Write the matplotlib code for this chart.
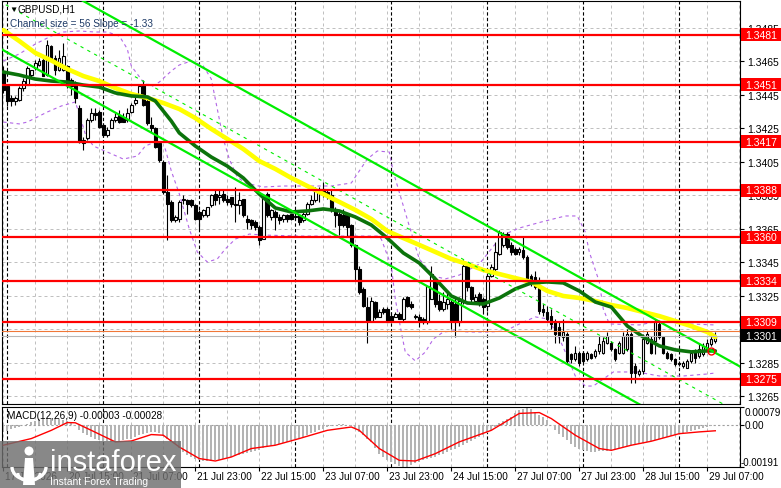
import matplotlib
matplotlib.use('Agg')
import matplotlib.pyplot as plt
import matplotlib.transforms as mtransforms
from matplotlib.patches import Rectangle, Circle, Polygon, Arc
import numpy as np

plt.rcParams['font.family'] = ['Liberation Sans', 'DejaVu Sans']

W, H = 781, 489

# ---- GBPUSD H1 candles, bar 0 = 17 Jul 23:00 ----
opens = [
    1.3458, 1.3450, 1.3443, 1.3441, 1.3442, 1.3449, 1.3451, 1.3457, 1.3461, 1.3463,
    1.3466, 1.3457, 1.3474, 1.3467, 1.3460, 1.3460, 1.3462, 1.3454, 1.3452, 1.3437,
    1.3416, 1.3419, 1.3430, 1.3434, 1.3435, 1.3427, 1.3421, 1.3425, 1.3430, 1.3433,
    1.3432, 1.3430, 1.3435, 1.3440, 1.3445, 1.3451, 1.3441, 1.3427, 1.3425, 1.3416,
    1.3405, 1.3387, 1.3381, 1.3370, 1.3371, 1.3382, 1.3382, 1.3382, 1.3379, 1.3375,
    1.3373, 1.3373, 1.3379, 1.3386, 1.3384, 1.3386, 1.3383, 1.3384, 1.3380, 1.3379,
    1.3383, 1.3371, 1.3370, 1.3369, 1.3366, 1.3359, 1.3386, 1.3372, 1.3375, 1.3372,
    1.3371, 1.3373, 1.3374, 1.3372, 1.3373, 1.3370, 1.3374, 1.3380, 1.3382, 1.3389,
    1.3389, 1.3387, 1.3385, 1.3377, 1.3374, 1.3373, 1.3373, 1.3367, 1.3355, 1.3341,
    1.3329, 1.3318, 1.3310, 1.3321, 1.3312, 1.3317, 1.3317, 1.3313, 1.3312, 1.3314,
    1.3311, 1.3324, 1.3320, 1.3312, 1.3312, 1.3311, 1.3309, 1.3323, 1.3335, 1.3322,
    1.3317, 1.3320, 1.3321, 1.3320, 1.3309, 1.3322, 1.3343, 1.3330, 1.3322, 1.3326,
    1.3323, 1.3319, 1.3337, 1.3341, 1.3350, 1.3355, 1.3362, 1.3355, 1.3353, 1.3351,
    1.3352, 1.3348, 1.3337, 1.3336, 1.3331, 1.3317, 1.3315, 1.3313, 1.3309, 1.3306,
    1.3300, 1.3302, 1.3290, 1.3287, 1.3291, 1.3291, 1.3287, 1.3290, 1.3289, 1.3292,
    1.3291, 1.3297, 1.3297, 1.3293, 1.3291, 1.3291, 1.3293, 1.3302, 1.3283, 1.3278,
    1.3280, 1.3297, 1.3299, 1.3298, 1.3308, 1.3300, 1.3291, 1.3290, 1.3287, 1.3285,
    1.3283, 1.3282, 1.3286, 1.3292, 1.3289, 1.3290, 1.3293, 1.3296, 1.3298]
highs = [
    1.3462, 1.3451, 1.3445, 1.3444, 1.3450, 1.3455, 1.3462, 1.3460, 1.3466, 1.3467,
    1.3468, 1.3478, 1.3475, 1.3469, 1.3472, 1.3476, 1.3463, 1.3455, 1.3453, 1.3439,
    1.3420, 1.3431, 1.3437, 1.3437, 1.3436, 1.3428, 1.3426, 1.3431, 1.3434, 1.3436,
    1.3434, 1.3437, 1.3440, 1.3445, 1.3451, 1.3454, 1.3444, 1.3432, 1.3426, 1.3417,
    1.3406, 1.3397, 1.3382, 1.3373, 1.3382, 1.3385, 1.3383, 1.3383, 1.3380, 1.3376,
    1.3377, 1.3378, 1.3386, 1.3388, 1.3388, 1.3388, 1.3385, 1.3384, 1.3390, 1.3387,
    1.3383, 1.3373, 1.3371, 1.3370, 1.3367, 1.3386, 1.3387, 1.3377, 1.3376, 1.3374,
    1.3374, 1.3374, 1.3374, 1.3374, 1.3374, 1.3375, 1.3381, 1.3385, 1.3390, 1.3390,
    1.3393, 1.3388, 1.3389, 1.3378, 1.3375, 1.3377, 1.3374, 1.3368, 1.3356, 1.3343,
    1.3330, 1.3324, 1.3324, 1.3322, 1.3317, 1.3318, 1.3318, 1.3315, 1.3315, 1.3315,
    1.3324, 1.3325, 1.3322, 1.3314, 1.3314, 1.3312, 1.3331, 1.3343, 1.3336, 1.3326,
    1.3327, 1.3327, 1.3323, 1.3324, 1.3324, 1.3346, 1.3345, 1.3331, 1.3326, 1.3327,
    1.3324, 1.3338, 1.3344, 1.3357, 1.3364, 1.3363, 1.3363, 1.3357, 1.3354, 1.3354,
    1.3360, 1.3349, 1.3338, 1.3340, 1.3336, 1.3320, 1.3319, 1.3317, 1.3311, 1.3309,
    1.3311, 1.3303, 1.3291, 1.3295, 1.3292, 1.3292, 1.3292, 1.3291, 1.3293, 1.3301,
    1.3300, 1.3303, 1.3298, 1.3294, 1.3298, 1.3303, 1.3305, 1.3303, 1.3285, 1.3281,
    1.3302, 1.3304, 1.3301, 1.3311, 1.3309, 1.3301, 1.3292, 1.3291, 1.3288, 1.3286,
    1.3286, 1.3287, 1.3292, 1.3293, 1.3297, 1.3297, 1.3299, 1.3301, 1.3303]
lows = [
    1.3446, 1.3438, 1.3438, 1.3439, 1.3441, 1.3447, 1.3451, 1.3455, 1.3460, 1.3462,
    1.3456, 1.3456, 1.3465, 1.3457, 1.3459, 1.3459, 1.3449, 1.3445, 1.3440, 1.3416,
    1.3412, 1.3418, 1.3429, 1.3430, 1.3425, 1.3420, 1.3420, 1.3425, 1.3429, 1.3428,
    1.3429, 1.3429, 1.3434, 1.3439, 1.3444, 1.3438, 1.3427, 1.3423, 1.3413, 1.3405,
    1.3386, 1.3358, 1.3369, 1.3369, 1.3369, 1.3380, 1.3374, 1.3378, 1.3370, 1.3364,
    1.3372, 1.3372, 1.3378, 1.3379, 1.3380, 1.3381, 1.3379, 1.3378, 1.3369, 1.3374,
    1.3372, 1.3365, 1.3365, 1.3364, 1.3355, 1.3359, 1.3372, 1.3370, 1.3364, 1.3368,
    1.3369, 1.3369, 1.3370, 1.3370, 1.3367, 1.3369, 1.3373, 1.3379, 1.3381, 1.3381,
    1.3384, 1.3383, 1.3375, 1.3366, 1.3361, 1.3366, 1.3360, 1.3354, 1.3334, 1.3326,
    1.3318, 1.3297, 1.3309, 1.3311, 1.3312, 1.3314, 1.3309, 1.3309, 1.3312, 1.3311,
    1.3310, 1.3318, 1.3317, 1.3311, 1.3306, 1.3308, 1.3308, 1.3323, 1.3318, 1.3316,
    1.3316, 1.3317, 1.3305, 1.3300, 1.3307, 1.3320, 1.3328, 1.3321, 1.3320, 1.3319,
    1.3314, 1.3316, 1.3336, 1.3340, 1.3349, 1.3354, 1.3353, 1.3349, 1.3349, 1.3349,
    1.3347, 1.3332, 1.3331, 1.3329, 1.3314, 1.3313, 1.3310, 1.3305, 1.3297, 1.3297,
    1.3298, 1.3284, 1.3285, 1.3286, 1.3283, 1.3285, 1.3286, 1.3287, 1.3288, 1.3290,
    1.3290, 1.3296, 1.3292, 1.3286, 1.3290, 1.3290, 1.3292, 1.3273, 1.3273, 1.3277,
    1.3278, 1.3296, 1.3290, 1.3290, 1.3299, 1.3290, 1.3287, 1.3286, 1.3283, 1.3283,
    1.3282, 1.3282, 1.3285, 1.3285, 1.3288, 1.3289, 1.3292, 1.3295, 1.3297]
closes = [
    1.3448, 1.3441, 1.3441, 1.3443, 1.3449, 1.3453, 1.3461, 1.3460, 1.3464, 1.3465,
    1.3456, 1.3475, 1.3467, 1.3460, 1.3467, 1.3468, 1.3452, 1.3450, 1.3443, 1.3417,
    1.3418, 1.3430, 1.3434, 1.3433, 1.3426, 1.3421, 1.3424, 1.3430, 1.3432, 1.3429,
    1.3429, 1.3434, 1.3439, 1.3442, 1.3450, 1.3439, 1.3428, 1.3425, 1.3414, 1.3406,
    1.3387, 1.3380, 1.3370, 1.3372, 1.3381, 1.3383, 1.3380, 1.3379, 1.3371, 1.3371,
    1.3376, 1.3378, 1.3385, 1.3382, 1.3385, 1.3382, 1.3381, 1.3380, 1.3379, 1.3382,
    1.3373, 1.3369, 1.3367, 1.3366, 1.3358, 1.3385, 1.3373, 1.3376, 1.3372, 1.3370,
    1.3373, 1.3371, 1.3371, 1.3372, 1.3369, 1.3374, 1.3380, 1.3382, 1.3389, 1.3387,
    1.3386, 1.3385, 1.3376, 1.3373, 1.3367, 1.3367, 1.3366, 1.3355, 1.3341, 1.3327,
    1.3319, 1.3310, 1.3322, 1.3312, 1.3315, 1.3315, 1.3309, 1.3310, 1.3314, 1.3311,
    1.3323, 1.3319, 1.3318, 1.3313, 1.3310, 1.3309, 1.3331, 1.3338, 1.3320, 1.3317,
    1.3321, 1.3323, 1.3310, 1.3309, 1.3322, 1.3343, 1.3330, 1.3323, 1.3324, 1.3320,
    1.3318, 1.3337, 1.3342, 1.3351, 1.3363, 1.3362, 1.3354, 1.3351, 1.3350, 1.3353,
    1.3348, 1.3333, 1.3332, 1.3330, 1.3316, 1.3315, 1.3311, 1.3308, 1.3302, 1.3301,
    1.3303, 1.3286, 1.3287, 1.3291, 1.3285, 1.3286, 1.3291, 1.3288, 1.3292, 1.3296,
    1.3298, 1.3301, 1.3293, 1.3287, 1.3297, 1.3301, 1.3302, 1.3279, 1.3279, 1.3280,
    1.3299, 1.3302, 1.3291, 1.3309, 1.3300, 1.3291, 1.3288, 1.3287, 1.3284, 1.3284,
    1.3285, 1.3286, 1.3291, 1.3288, 1.3293, 1.3295, 1.3297, 1.3299, 1.3301]

# moving averages (sampled at bar indices)
ma_slow_idx = [0, 4, 8, 12, 16, 20, 24, 28, 32, 36, 40, 44, 48, 52, 56, 60, 64, 68, 72,
               76, 80, 84, 88, 92, 96, 100, 104, 108, 112, 116, 120, 124, 128, 132, 136,
               140, 144, 148, 152, 156, 160, 164, 168, 172, 176, 178]
ma_slow = [1.34837, 1.34771, 1.34700, 1.34655, 1.34604, 1.34562, 1.34532, 1.34490, 1.34455,
           1.34431, 1.34401, 1.34365, 1.34311, 1.34246, 1.34186, 1.34126, 1.34054, 1.34007,
           1.33953, 1.33905, 1.33857, 1.33810, 1.33762, 1.33708, 1.33636, 1.33594, 1.33553,
           1.33511, 1.33469, 1.33439, 1.33403, 1.33379, 1.33355, 1.33332, 1.33278, 1.33248,
           1.33236, 1.33218, 1.33194, 1.33176, 1.33152, 1.33128, 1.33098, 1.33068, 1.33033,
           1.33003]
ma_fast_idx = [0, 4, 8, 12, 16, 20, 24, 28, 32, 36, 38, 40, 42, 44, 48, 52, 56, 60, 64, 68,
               72, 76, 80, 84, 88, 92, 96, 100, 104, 108, 112, 116, 120, 124, 128, 132, 136,
               140, 144, 148, 152, 156, 160, 164, 168, 172, 176, 178]
ma_fast = [1.34586, 1.34568, 1.34544, 1.34532, 1.34526, 1.34508, 1.34496, 1.34461, 1.34443,
           1.34437, 1.34413, 1.34353, 1.34293, 1.34222, 1.34144, 1.34078, 1.34024, 1.33953,
           1.33857, 1.33774, 1.33750, 1.33756, 1.33768, 1.33756, 1.33720, 1.33672, 1.33594,
           1.33505, 1.33445, 1.33350, 1.33248, 1.33206, 1.33200, 1.33236, 1.33290, 1.33326,
           1.33332, 1.33326, 1.33278, 1.33212, 1.33182, 1.33069, 1.33003, 1.32950, 1.32926,
           1.32914, 1.32920, 1.32920]

# bands (purple dashed)
band_up_idx = [0, 4, 8, 12, 15, 19, 23, 26, 29, 31, 32, 35, 37, 39, 42, 44, 47, 50, 52, 53,
               54, 55, 56.5, 58.5, 60.5, 65, 70, 75, 82, 87, 89, 91, 93.5, 96.5, 97.5, 99.5,
               101.5, 103, 104, 107.5, 110.5, 114, 119, 123, 125.5, 129, 134.5, 140.5, 143.5,
               145.5, 146.5, 149, 150, 151.5, 159, 164, 171.5, 178]
band_up = [1.34652, 1.34694, 1.34753, 1.34801, 1.34825, 1.34831, 1.34825, 1.34825, 1.34801,
           1.34724, 1.34622, 1.34526, 1.34497, 1.34526, 1.34592, 1.34628, 1.34652, 1.34622,
           1.34544, 1.34425, 1.34305, 1.34186, 1.34066, 1.33959, 1.33923, 1.33899, 1.33905,
           1.33905, 1.33905, 1.33923, 1.33995, 1.34066, 1.34114, 1.34108, 1.33989, 1.33827,
           1.33666, 1.33547, 1.33469, 1.33367, 1.33350, 1.33373, 1.33439, 1.33559, 1.33618,
           1.33654, 1.33690, 1.33726, 1.33726, 1.33630, 1.33511, 1.33332, 1.33170, 1.33081,
           1.33075, 1.33099, 1.33081, 1.33075]
band_dn_idx = [0, 4, 6, 11, 14.5, 18, 19, 20.5, 22.5, 26, 30, 33.5, 35.5, 38, 40.5, 42, 44,
               46.5, 48.5, 51, 53.5, 55.5, 58, 61.5, 65, 74, 82, 93.5, 94.5, 97, 98, 99.5,
               100.5, 103, 105.5, 107.5, 110, 112.5, 116.5, 121.5, 125.5, 129, 133, 136,
               138.5, 140.5, 143, 145.5, 147.5, 150, 152.5, 158.5, 164, 170, 176, 178]
band_dn = [1.34287, 1.34276, 1.34287, 1.34347, 1.34383, 1.34407, 1.34335, 1.34216, 1.34144,
           1.34108, 1.34066, 1.34084, 1.34144, 1.34168, 1.34126, 1.33995, 1.33858, 1.33648,
           1.33511, 1.33451, 1.33469, 1.33529, 1.33588, 1.33618, 1.33612, 1.33606, 1.33606,
           1.33606, 1.33588, 1.33427, 1.33230, 1.33033, 1.32913, 1.32860, 1.32913, 1.32991,
           1.33033, 1.33039, 1.33033, 1.33033, 1.33039, 1.33081, 1.33123, 1.33111, 1.33021,
           1.32913, 1.32770, 1.32710, 1.32710, 1.32752, 1.32794, 1.32794, 1.32770, 1.32770,
           1.32782, 1.32788]

# regression channel: "Channel size = 56 Slope = -1.33"
channel_top_at_0 = 1.35276
channel_slope = -0.000133
channel_size = 0.0056

levels = [1.3481, 1.3451, 1.3417, 1.3388, 1.3360, 1.3334, 1.3309, 1.3275]
bid_price = 1.3301
ask_price = 1.3304
marker_idx, marker_price = 177, 1.3292
price_ticks = [1.3265, 1.3285, 1.3305, 1.3325, 1.3345, 1.3365, 1.3385, 1.3405,
               1.3425, 1.3445, 1.3465, 1.3485]

# MACD(12,26,9): histogram (in 1e-5) and signal
macd_hist_pts = [
    -33, -28, -22, -16, -11, -4, 4, 12, 18, 24,
    27, 29, 30, 29, 27, 22, 17, 12, -5, -26,
    -36, -47, -56, -64, -71, -74, -76, -77, -78, -75,
    -71, -67, -63, -57, -49, -41, -36, -33, -35, -40,
    -51, -66, -77, -86, -106, -123, -135, -145, -153, -160,
    -165, -166, -164, -161, -158, -154, -150, -146, -141, -136,
    -132, -127, -123, -118, -114, -106, -102, -98, -93, -88,
    -83, -77, -71, -66, -60, -54, -47, -40, -33, -26,
    -18, -12, -6, 0, 3, 2, -2, -6, -18, -33,
    -47, -63, -78, -105, -131, -146, -158, -168, -176, -188,
    -191, -189, -180, -174, -167, -161, -155, -149, -144, -138,
    -131, -124, -116, -109, -101, -92, -83, -74, -65, -56,
    -45, -36, -26, -10, 5, 15, 25, 35, 50, 65,
    72, 79, 70, 57, 45, 33, 20, 0, -26, -42,
    -57, -71, -86, -101, -110, -116, -120, -122, -123, -121,
    -119, -117, -116, -111, -107, -102, -98, -93, -90, -86,
    -82, -78, -75, -70, -65, -60, -56, -51, -47, -43,
    -39, -35, -30, -26, -22, -16, -12, -8, -3]
macd_sig_idx = [0, 7, 12, 16, 18, 22, 28, 32, 37, 40, 44, 49, 53, 57, 62, 68, 74, 81, 87,
                89, 94, 99, 103, 108, 114, 122, 129, 134, 137, 143, 149, 152, 157, 162,
                169, 174, 178]
macd_sig = [-0.00093, -0.00063, -0.00026, 0.00009, 0.00008, -0.00026, -0.00078, -0.00074,
            -0.00045, -0.00048, -0.00101, -0.00153, -0.00164, -0.00146, -0.00108, -0.00093,
            -0.00063, -0.00026, -0.00011, -0.00026, -0.00108, -0.00161, -0.00164, -0.00131,
            -0.00078, -0.00026, 0.00050, 0.00054, 0.00027, -0.00048, -0.00108, -0.00116,
            -0.00093, -0.00075, -0.00041, -0.00033, -0.00028]

day_start_idx = [1, 25, 49, 73, 97, 121, 145, 169]
time_label_idx = [0, 16, 32, 48, 64, 80, 96, 112, 128, 144, 160, 176]
time_labels = ['17 Jul 2026', '20 Jul 15:00', '21 Jul 07:00', '21 Jul 23:00', '22 Jul 15:00',
               '23 Jul 07:00', '23 Jul 23:00', '24 Jul 15:00', '27 Jul 07:00', '27 Jul 23:00',
               '28 Jul 15:00', '29 Jul 07:00']


def px_box(left, top, right, bottom):
    return [left / W, 1 - bottom / H, (right - left) / W, (bottom - top) / H]


fig = plt.figure(figsize=(W / 100, H / 100), dpi=100)
fig.patch.set_facecolor('white')
ax = fig.add_axes(px_box(2, 2, 740, 405))
ax2 = fig.add_axes(px_box(2, 408, 740, 468))
AXW = 738.0

for a in (ax, ax2):
    a.set_xlim(-0.325, 184.175)
    for s in a.spines.values():
        s.set_color('black')
        s.set_linewidth(0.8)
    for g in range(0, 185, 8):
        a.axvline(g, color='#C0C0C0', lw=0.72, ls=(0, (3, 3)), zorder=1)
    for d in day_start_idx:
        a.axvline(d, color='black', lw=0.8, ls=(0, (3, 2)), zorder=1.5)
ax.set_ylim(1.326027, 1.350102)
ax2.set_ylim(-0.00191, 0.00079)

for p in price_ticks:
    ax.axhline(p, color='#C0C0C0', lw=0.72, ls=(0, (3, 3)), zorder=1)

# bands
ax.plot(band_up_idx, band_up, color='#B266E6', lw=0.8, ls=(0, (3, 3)), zorder=2)
ax.plot(band_dn_idx, band_dn, color='#B266E6', lw=0.8, ls=(0, (3, 3)), zorder=2)

# candles
idx = np.arange(len(opens))
o, hi, lo, c = (np.array(v) for v in (opens, highs, lows, closes))
up = c >= o
ax.vlines(idx, lo, hi, color='black', lw=0.8, zorder=3)
body_lo = np.minimum(o, c)
body_h = np.maximum(np.abs(c - o), 0.00003)
ax.bar(idx[up], body_h[up], bottom=body_lo[up], width=0.6, facecolor='white',
       edgecolor='black', linewidth=0.8, zorder=3.1)
ax.bar(idx[~up], body_h[~up], bottom=body_lo[~up], width=0.6, facecolor='black',
       edgecolor='black', linewidth=0.8, zorder=3.1)

# moving averages
ax.plot(ma_slow_idx, ma_slow, color='#FFFF00', lw=3.3, solid_capstyle='round',
        solid_joinstyle='round', zorder=4)
ax.plot(ma_fast_idx, ma_fast, color='#0B730B', lw=2.6, solid_capstyle='round',
        solid_joinstyle='round', zorder=4.1)

# channel
ch_x = np.array([-2.0, 186.0])
ch_top = channel_top_at_0 + channel_slope * ch_x
ax.plot(ch_x, ch_top, color='#00EE00', lw=1.6, zorder=5)
ax.plot(ch_x, ch_top - channel_size, color='#00EE00', lw=1.6, zorder=5)
ax.plot(ch_x, ch_top - channel_size / 2, color='#00EE00', lw=0.8, ls=(0, (3, 4)), zorder=5)

# horizontal levels
for lv in levels:
    ax.axhline(lv, color='#FF0000', lw=1.6, zorder=6)
ax.axhline(ask_price, color='#F07838', lw=0.8, zorder=5.5)
ax.axhline(bid_price, color='#B8B8B8', lw=0.8, zorder=5.5)
ax.plot([marker_idx], [marker_price], 'o', ms=5, mfc='none', mec='#FF0000', mew=1,
        zorder=7)

# right price scale
ax.yaxis.tick_right()
ax.set_yticks(price_ticks)
ax.set_yticklabels([f'{p:.4f}' for p in price_ticks])
ax.tick_params(axis='y', length=3, width=0.8, labelsize=7.5, pad=2)
ax.set_xticks([])

trans = mtransforms.blended_transform_factory(ax.transAxes, ax.transData)
box_h = 13 * (1.350102 - 1.326027) / 403


def price_box(val, fc, show_text=True):
    ax.add_patch(Rectangle((1 + 1 / AXW, val - box_h / 2), 41 / AXW, box_h,
                           transform=trans, facecolor=fc, edgecolor='none',
                           clip_on=False, zorder=10))
    if show_text:
        ax.text(1 + 5 / AXW, val, f'{val:.4f}', transform=trans, color='white',
                fontsize=7.5, va='center', ha='left', clip_on=False, zorder=11)


# ask box is almost fully covered by the 1.3309 and 1.3301 boxes
price_box(ask_price, '#F07838', show_text=False)
for lv in levels:
    price_box(lv, '#FF0000')
price_box(bid_price, '#000000')

# MACD panel
ax2.bar(idx, np.array(macd_hist_pts) * 1e-5, width=0.55, color='#B4B4B4', zorder=2)
ax2.axhline(0, color='#A0A0A0', lw=0.8, ls=(0, (2, 2)), zorder=1.8)
ax2.plot(macd_sig_idx, macd_sig, color='#FF0000', lw=1.0, zorder=3)
ax2.yaxis.tick_right()
ax2.set_yticks([0.00079, 0.0, -0.00191])
ax2.set_yticklabels(['', '', ''])
ax2.tick_params(axis='y', length=3, width=0.8)
ax2.set_xticks(time_label_idx)
ax2.tick_params(axis='x', length=3, width=0.8, labelbottom=False)
t2 = mtransforms.blended_transform_factory(ax2.transAxes, ax2.transData)
ax2.text(1 + 5 / AXW, 0.00079, '0.00079', transform=t2, fontsize=7.2, va='top', ha='left')
ax2.text(1 + 5 / AXW, 0.0, '0.00', transform=t2, fontsize=7.2, va='center', ha='left')
ax2.text(1 + 1 / AXW, -0.00191, '-0.00191', transform=t2, fontsize=7.0, va='bottom',
         ha='left')
ax2.text(0.007, 0.86, 'MACD(12,26,9) -0.00003 -0.00028', transform=ax2.transAxes,
         fontsize=7.2, va='center', ha='left', zorder=6)

tx = mtransforms.blended_transform_factory(ax2.transData, ax2.transAxes)
for i, lab in zip(time_label_idx, time_labels):
    ax2.text(i + 0.45, -0.15, lab, transform=tx, fontsize=7.2, va='center', ha='left',
             clip_on=False)

# top-left captions
ax.text(7 / AXW, 1 - 8 / 403, '\u25bc', transform=ax.transAxes, fontsize=6,
        va='center', ha='left', zorder=12)
ax.text(16 / AXW, 1 - 8 / 403, 'GBPUSD,H1', transform=ax.transAxes, fontsize=7.2,
        va='center', ha='left', zorder=12)
ax.text(8 / AXW, 1 - 22 / 403, 'Channel size = 56 Slope = -1.33', transform=ax.transAxes,
        fontsize=7.2, color='#1E3A66', va='center', ha='left', zorder=12)

# watermark logo
ov = fig.add_axes([0, 0, 1, 1])
ov.set_xlim(0, W)
ov.set_ylim(H, 0)
ov.axis('off')
ov.set_zorder(20)
ov.add_patch(Rectangle((0, 442), 181, 47, facecolor='#6E6E6E', alpha=0.82,
                       edgecolor='none'))
ov.add_patch(Circle((29, 452), 4.5, facecolor='white', edgecolor='none'))
ov.add_patch(Polygon([(25, 459), (33, 459), (35, 486), (23, 486)], closed=True,
                     facecolor='white', edgecolor='none'))
ov.add_patch(Arc((29, 468), 34, 26, theta1=0, theta2=180, color='white', lw=2.4))
ov.add_patch(Arc((29, 474), 22, 16, theta1=0, theta2=180, color='white', lw=2.0))
ov.text(50, 471, 'instaforex', color='white', fontsize=21, va='baseline', ha='left')
ov.text(50, 485, 'Instant Forex Trading', color='white', fontsize=7.5, va='baseline',
        ha='left')

fig.savefig('out.png', dpi=100, facecolor='white')
